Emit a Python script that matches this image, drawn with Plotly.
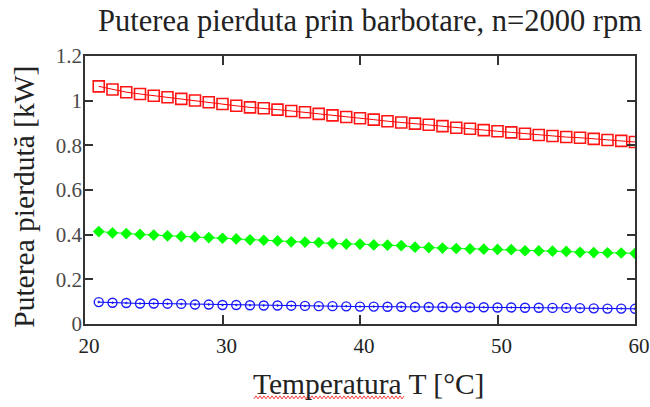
import plotly.graph_objects as go

temperature = list(range(21, 61))

p_red = [1.064, 1.050, 1.038, 1.030, 1.022, 1.015, 1.008, 1.001, 0.993, 0.985,
         0.977, 0.970, 0.966, 0.960, 0.954, 0.948, 0.941, 0.934, 0.927, 0.921,
         0.915, 0.908, 0.902, 0.897, 0.892, 0.886, 0.879, 0.874, 0.868, 0.863,
         0.858, 0.852, 0.846, 0.842, 0.837, 0.834, 0.829, 0.824, 0.820, 0.815]

p_green = [0.414, 0.408, 0.405, 0.401, 0.398, 0.395, 0.392, 0.390, 0.387, 0.384,
           0.381, 0.377, 0.375, 0.372, 0.368, 0.367, 0.365, 0.360, 0.358, 0.358,
           0.354, 0.353, 0.351, 0.344, 0.342, 0.340, 0.338, 0.336, 0.335, 0.334,
           0.333, 0.328, 0.327, 0.326, 0.325, 0.321, 0.320, 0.319, 0.318, 0.316]

p_blue = [0.098, 0.095, 0.094, 0.092, 0.092, 0.091, 0.090, 0.087, 0.087, 0.085,
          0.085, 0.084, 0.083, 0.083, 0.082, 0.081, 0.080, 0.080, 0.079, 0.078,
          0.078, 0.077, 0.077, 0.076, 0.076, 0.076, 0.075, 0.075, 0.075, 0.074,
          0.074, 0.073, 0.073, 0.072, 0.072, 0.071, 0.070, 0.069, 0.069, 0.068]

x_ticks = [20, 30, 40, 50, 60]
y_ticks = [0, 0.2, 0.4, 0.6, 0.8, 1, 1.2]
y_tick_text = ["0", "0.2", "0.4", "0.6", "0.8", "1", "1.2"]

title_text = "Puterea pierduta prin barbotare, n=2000 rpm"
x_title = "Temperatura T [°C]"
y_title = "Puterea pierdută [kW]"

FONT = "Liberation Serif, Times New Roman, serif"

fig = go.Figure()
fig.add_trace(go.Scatter(
    x=temperature, y=p_red, mode="lines+markers",
    line=dict(color="#ff0000", width=1),
    marker=dict(symbol="square-open", size=11, color="#ff1414", line=dict(width=1.6)),
    showlegend=False))
fig.add_trace(go.Scatter(
    x=temperature, y=p_green, mode="lines+markers",
    line=dict(color="#00ff00", width=1),
    marker=dict(symbol="diamond", size=9, color="#00ff00", line=dict(width=0)),
    showlegend=False))
fig.add_trace(go.Scatter(
    x=temperature, y=p_blue, mode="lines+markers",
    line=dict(color="#0000ff", width=1),
    marker=dict(symbol="circle-open-dot", size=9, color="#1a1aff", line=dict(width=1.4)),
    showlegend=False))

# spell-check style wavy underline under "Temperatura"
wx0, wx1, wy = 254, 405, 398
pts = []
i = 0
xx = wx0
while xx <= wx1:
    yy = wy + (1.5 if i % 2 == 0 else -1.5)
    pts.append(((xx - 85) / 550, (324.5 - yy) / 268.5))
    xx += 2
    i += 1
path = "M " + " L ".join(f"{a:.5f},{b:.5f}" for a, b in pts)

fig.update_layout(
    width=650, height=407,
    margin=dict(l=85, r=15, t=56, b=82.5, autoexpand=False),
    paper_bgcolor="white", plot_bgcolor="white",
    font=dict(family=FONT, color="#222"),
    title=dict(text=title_text, x=370 / 650, xanchor="center", y=1 - 20 / 407,
               yanchor="middle", font=dict(size=30.5, family=FONT, color="#222")),
    xaxis=dict(range=[20, 60], tickvals=x_ticks, ticks="inside", ticklen=9,
               tickwidth=1.5, tickcolor="#333", showline=True, linecolor="#333",
               linewidth=1.5, mirror="ticks", showgrid=False, zeroline=False,
               automargin=False,
               tickfont=dict(size=21, family=FONT, color="#222"),
               ticklabelstandoff=2, ticklabelshift=4),
    yaxis=dict(range=[0, 1.2], tickvals=y_ticks, ticktext=y_tick_text, ticks="inside",
               ticklen=8, tickwidth=1.5, tickcolor="#333", showline=True,
               linecolor="#333", linewidth=1.5, mirror="ticks", showgrid=False,
               zeroline=False, automargin=False,
               tickfont=dict(size=21, family=FONT, color="#4a4a4a"),
               ticklabelstandoff=-3),
    annotations=[
        dict(text=x_title, xref="paper", yref="paper", x=(368 - 85) / 550,
             y=(324.5 - 385) / 268.5, xanchor="center", yanchor="middle",
             showarrow=False, font=dict(size=29.5, family=FONT, color="#222")),
        dict(text=y_title, xref="paper", yref="paper", x=(24 - 85) / 550,
             y=(324.5 - 197) / 268.5, xanchor="center", yanchor="middle",
             textangle=-90, showarrow=False,
             font=dict(size=29.5, family=FONT, color="#222")),
    ],
    shapes=[dict(type="path", path=path, xref="paper", yref="paper",
                 line=dict(color="#ff4040", width=1))],
)

fig.write_html("out.html")
